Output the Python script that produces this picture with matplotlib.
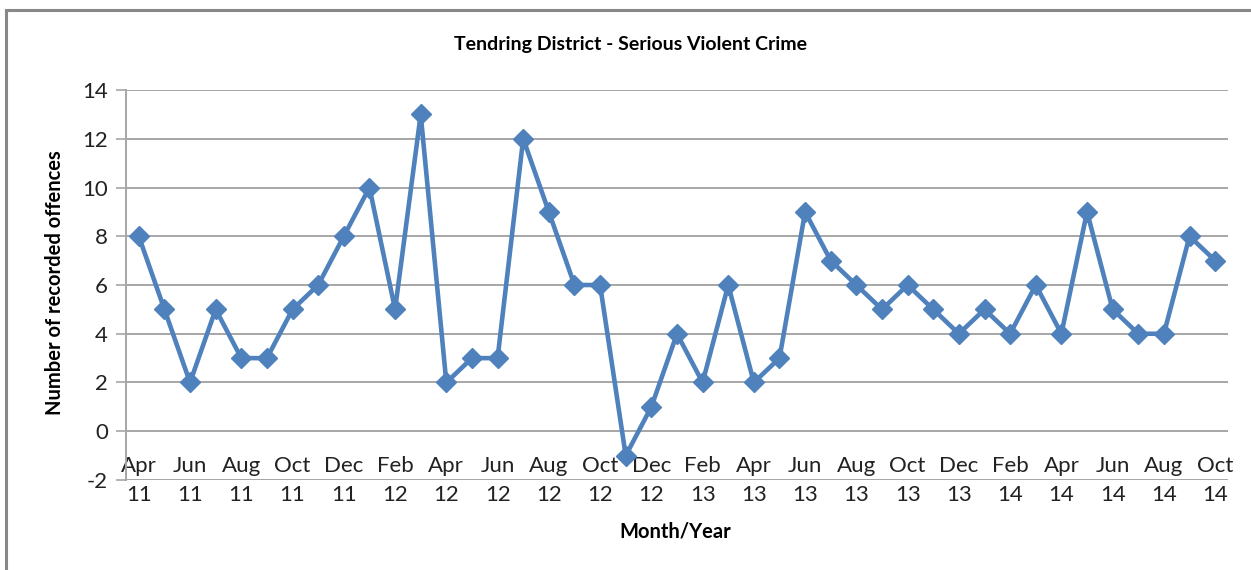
import matplotlib
matplotlib.use("Agg")
import matplotlib.pyplot as plt
from matplotlib.patches import Rectangle

# monthly counts, Apr 2011 .. Oct 2014
MONTHS = ["Apr", "May", "Jun", "Jul", "Aug", "Sep", "Oct", "Nov", "Dec",
          "Jan", "Feb", "Mar"]
START_YEAR = 11
N_MONTHS = 43
OFFENCES = [8, 5, 2, 5, 3, 3, 5, 6, 8, 10, 5, 13,
            2, 3, 3, 12, 9, 6, 6, -1, 1, 4, 2, 6,
            2, 3, 9, 7, 6, 5, 6, 5, 4, 5, 4, 6,
            4, 9, 5, 4, 4, 8, 7]
Y_TICKS = [-2, 0, 2, 4, 6, 8, 10, 12, 14]

labels = []
for i in range(N_MONTHS):
    m = MONTHS[i % 12]
    yr = START_YEAR + (i + 3) // 12
    labels.append(f"{m}\n{yr}")

BLUE = "#4F81BD"
GRID = "#A6A6A6"
plt.rcParams["font.family"] = ["Lato", "DejaVu Sans"]

fig = plt.figure(figsize=(12.51, 5.70), dpi=100)
ax = fig.add_axes([0.1007, 0.1579, 0.8809, 0.6842])

x = list(range(N_MONTHS))
ax.plot(x, OFFENCES, color=BLUE, lw=3.3, marker="D", ms=10.5,
        mfc=BLUE, mec=BLUE, zorder=3, clip_on=False)

ax.set_xlim(-0.5, N_MONTHS - 0.5)
ax.set_ylim(-2, 14)
ax.set_yticks(Y_TICKS)
ax.set_yticklabels([str(v) for v in Y_TICKS], fontsize=16, color="#222222")
ax.tick_params(axis="y", length=7, width=1.2, color=GRID, pad=6)

ax.set_xticks(x[::2])
ax.set_xticklabels(labels[::2], fontsize=16, color="#222222", linespacing=1.55)
ax.tick_params(axis="x", length=0, pad=-17)

ax.grid(axis="y", color=GRID, lw=1.4)
ax.set_axisbelow(True)
for s in ("top", "right", "bottom"):
    ax.spines[s].set_visible(False)
ax.spines["left"].set_color(GRID)
ax.spines["left"].set_linewidth(1.4)

fig.text(0.504, 0.922, "Tendring District - Serious Violent Crime",
         ha="center", va="center", fontsize=14, fontweight="bold")
fig.text(0.044, 0.505, "Number of recorded offences", rotation=90,
         ha="center", va="center", fontsize=14.5, fontweight="bold")
fig.text(0.540, 0.067, "Month/Year", ha="center", va="center",
         fontsize=14.5, fontweight="bold")

fig.add_artist(Rectangle((0.0048, -0.1), 2.0, 0.9825 + 0.1,
                         transform=fig.transFigure, fill=False,
                         edgecolor="#888888", lw=2.2))

fig.savefig("out.png", dpi=100)
